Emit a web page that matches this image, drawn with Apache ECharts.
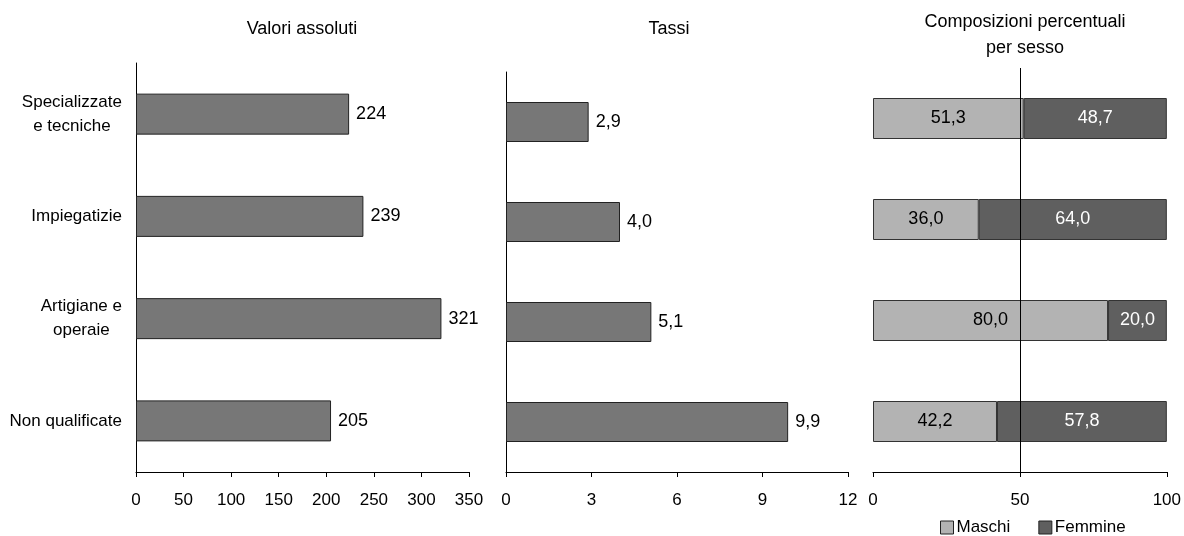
<!DOCTYPE html>
<html><head><meta charset="utf-8">
<script src="https://cdn.jsdelivr.net/npm/echarts@6/dist/echarts.min.js"></script>
<style>html,body{margin:0;padding:0;background:#fff}#c{width:1184px;height:536px}</style>
</head><body><div id="c"></div>
<script>
const categories = ['Specializzate\ne tecniche', 'Impiegatizie', 'Artigiane e\noperaie', 'Non qualificate'];
const valoriAssoluti = [224, 239, 321, 205];
const tassi = [2.9, 4.0, 5.1, 9.9];
const maschi = [51.3, 36.0, 80.0, 42.2];
const femmine = [48.7, 64.0, 20.0, 57.8];
const titles = ['Valori assoluti', 'Tassi', 'Composizioni percentuali\nper sesso'];
const seriesNames = ['Maschi', 'Femmine'];

const FONT = 'Liberation Sans, Arial, sans-serif';
const fmtIt = (v, d) => v.toFixed(d).replace('.', ',');

const chart = echarts.init(document.getElementById('c'), null, {renderer: 'canvas'});

const xAxisBase = {
  type: 'value',
  splitLine: {show: false},
  axisLine: {show: true, lineStyle: {color: '#000', width: 1}},
  axisTick: {show: true, inside: false, length: 5, lineStyle: {color: '#000'}},
  axisLabel: {color: '#000', fontSize: 17, fontFamily: FONT, margin: 20}
};
const yAxisBase = {
  type: 'category',
  data: categories,
  inverse: true,
  axisTick: {show: false},
  axisLine: {show: true, lineStyle: {color: '#000', width: 1}}
};
const barStyle = {color: '#777777', borderColor: '#222', borderWidth: 1};
const valLabel = {show: true, position: 'right', distance: 7, color: '#000', fontSize: 18, fontFamily: FONT};
const titleStyle = {fontSize: 18, fontWeight: 'normal', color: '#000', fontFamily: FONT, lineHeight: 26};

chart.setOption({
  animation: false,
  backgroundColor: '#fff',
  title: [
    {text: titles[0], left: 297, top: 11, textAlign: 'center', textStyle: titleStyle},
    {text: titles[1], left: 664, top: 11, textAlign: 'center', textStyle: titleStyle},
    {text: titles[2], left: 1020, top: 4, textAlign: 'center', textStyle: titleStyle}
  ],
  legend: {
    data: seriesNames,
    left: 935, top: 514,
    icon: 'rect', itemWidth: 13, itemHeight: 13, itemGap: 28,
    textStyle: {fontSize: 17, color: '#000', fontFamily: FONT, padding: [0, 0, 0, -2]},
    itemStyle: {borderColor: '#222', borderWidth: 1}
  },
  grid: [
    {left: 136, top: 63, width: 333, height: 409, containLabel: false},
    {left: 506, top: 72, width: 342, height: 400, containLabel: false},
    {left: 873, top: 68, width: 295, height: 404, containLabel: false}
  ],
  xAxis: [
    Object.assign({}, xAxisBase, {gridIndex: 0, min: 0, max: 350, interval: 50}),
    Object.assign({}, xAxisBase, {gridIndex: 1, min: 0, max: 12, interval: 3}),
    Object.assign({}, xAxisBase, {gridIndex: 2, min: 0, max: 100, interval: 50})
  ],
  yAxis: [
    Object.assign({}, yAxisBase, {gridIndex: 0, axisLabel: {
      color: '#000', fontSize: 17, fontFamily: FONT, margin: 14, lineHeight: 24,
      formatter: v => v.split('\n').map(s => '{c|' + s + '}').join('\n'),
      rich: {c: {align: 'center', fontSize: 17, fontFamily: FONT, color: '#000', lineHeight: 24}}
    }}),
    Object.assign({}, yAxisBase, {gridIndex: 1, axisLabel: {show: false}}),
    Object.assign({}, yAxisBase, {gridIndex: 2, axisLabel: {show: false}, axisLine: {show: false}})
  ],
  series: [
    {type: 'bar', xAxisIndex: 0, yAxisIndex: 0, data: valoriAssoluti, barWidth: 41,
     itemStyle: barStyle, label: Object.assign({}, valLabel, {formatter: p => String(p.value)})},
    {type: 'bar', xAxisIndex: 1, yAxisIndex: 1, data: tassi, barWidth: 40,
     itemStyle: barStyle, label: Object.assign({}, valLabel, {formatter: p => fmtIt(p.value, 1)})},
    {name: seriesNames[0], type: 'bar', stack: 'comp', xAxisIndex: 2, yAxisIndex: 2, data: maschi, barWidth: 41,
     itemStyle: {color: '#b3b3b3', borderColor: '#333', borderWidth: 1},
     label: {show: true, position: 'inside', color: '#000', fontSize: 18, fontFamily: FONT, formatter: p => fmtIt(p.value, 1)}},
    {name: seriesNames[1], type: 'bar', stack: 'comp', xAxisIndex: 2, yAxisIndex: 2, data: femmine, barWidth: 41,
     itemStyle: {color: '#5f5f5f', borderColor: '#333', borderWidth: 1},
     label: {show: true, position: 'inside', color: '#fff', fontSize: 18, fontFamily: FONT, formatter: p => fmtIt(p.value, 1)},
     markLine: {silent: true, symbol: 'none', label: {show: false}, z: 10,
       lineStyle: {color: '#000', width: 1, type: 'solid'},
       data: [{xAxis: 50}]}}
  ]
});
</script>
</body></html>
